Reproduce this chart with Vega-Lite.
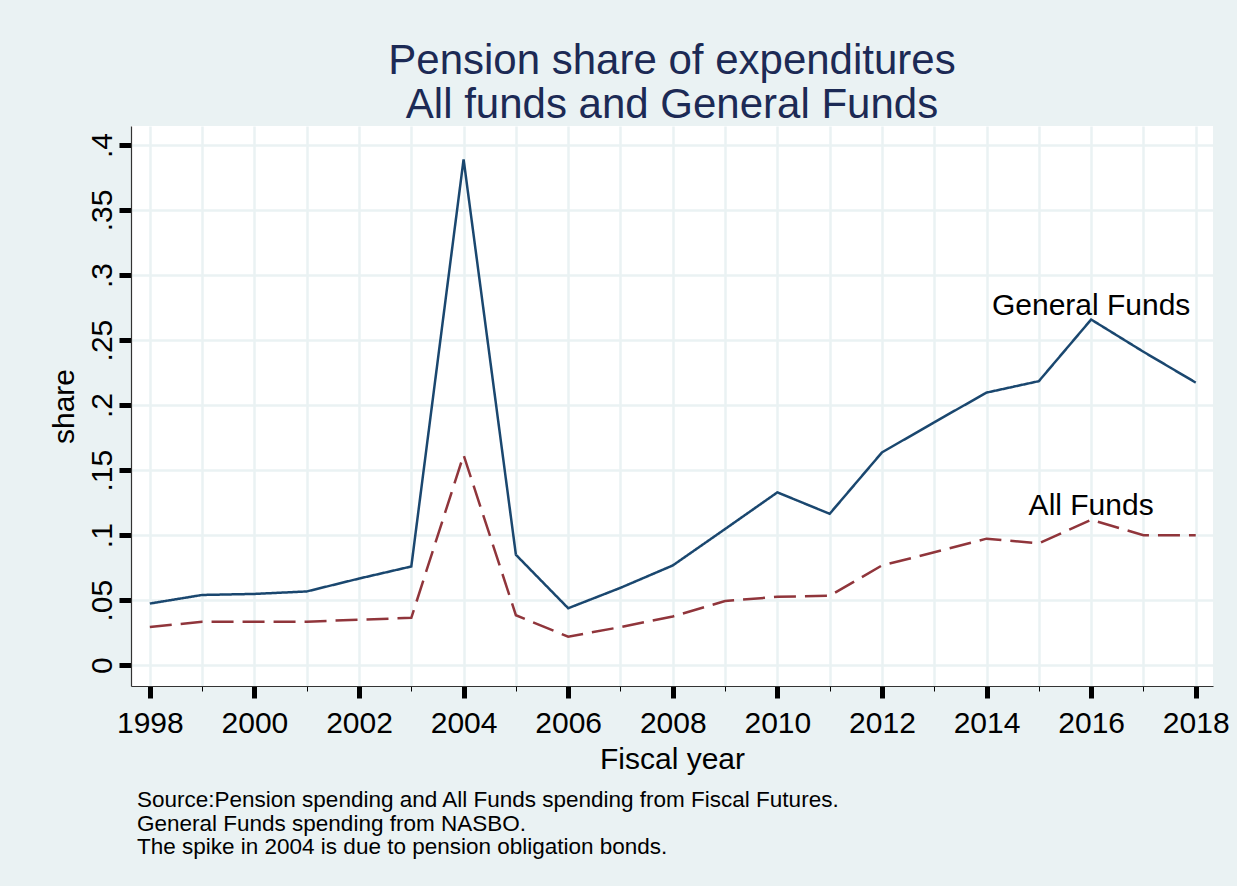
{
  "$schema": "https://vega.github.io/schema/vega-lite/v6.json",
  "background": "#eaf2f3",
  "padding": {"left": 49, "top": 40, "right": 11, "bottom": 40},
  "title": {
    "text": ["Source:Pension spending and All Funds spending from Fiscal Futures.", "General Funds spending from NASBO.", "The spike in 2004 is due to pension obligation bonds."],
    "orient": "bottom",
    "anchor": "start",
    "dx": 88,
    "fontSize": 22.5,
    "fontWeight": "normal",
    "color": "#000000",
    "lineHeight": 23.5,
    "offset": 15
  },
  "vconcat": [
    {
      "title": {
        "text": ["Pension share of expenditures", "All funds and General Funds"],
        "anchor": "middle",
        "fontSize": 42,
        "fontWeight": "normal",
        "color": "#1c2a55",
        "lineHeight": 44,
        "offset": -1
      },
      "width": 1082,
      "height": 560,
      "data": {
        "values": [
          {"year": 1998, "series": "General Funds", "share": 0.0474},
          {"year": 1999, "series": "General Funds", "share": 0.054},
          {"year": 2000, "series": "General Funds", "share": 0.0548},
          {"year": 2001, "series": "General Funds", "share": 0.0567},
          {"year": 2002, "series": "General Funds", "share": 0.0666},
          {"year": 2003, "series": "General Funds", "share": 0.0759},
          {"year": 2004, "series": "General Funds", "share": 0.389},
          {"year": 2005, "series": "General Funds", "share": 0.0849},
          {"year": 2006, "series": "General Funds", "share": 0.0438},
          {"year": 2007, "series": "General Funds", "share": 0.0595},
          {"year": 2008, "series": "General Funds", "share": 0.0767},
          {"year": 2009, "series": "General Funds", "share": 0.1047},
          {"year": 2010, "series": "General Funds", "share": 0.1329},
          {"year": 2011, "series": "General Funds", "share": 0.1164},
          {"year": 2012, "series": "General Funds", "share": 0.1636},
          {"year": 2013, "series": "General Funds", "share": 0.1868},
          {"year": 2014, "series": "General Funds", "share": 0.2096},
          {"year": 2015, "series": "General Funds", "share": 0.2184},
          {"year": 2016, "series": "General Funds", "share": 0.2658},
          {"year": 2017, "series": "General Funds", "share": 0.241},
          {"year": 2018, "series": "General Funds", "share": 0.2173},
          {"year": 1998, "series": "All Funds", "share": 0.0293},
          {"year": 1999, "series": "All Funds", "share": 0.0334},
          {"year": 2000, "series": "All Funds", "share": 0.0334},
          {"year": 2001, "series": "All Funds", "share": 0.0334},
          {"year": 2002, "series": "All Funds", "share": 0.035},
          {"year": 2003, "series": "All Funds", "share": 0.0364},
          {"year": 2004, "series": "All Funds", "share": 0.1616},
          {"year": 2005, "series": "All Funds", "share": 0.0384},
          {"year": 2006, "series": "All Funds", "share": 0.0219},
          {"year": 2007, "series": "All Funds", "share": 0.0293},
          {"year": 2008, "series": "All Funds", "share": 0.0375},
          {"year": 2009, "series": "All Funds", "share": 0.0493},
          {"year": 2010, "series": "All Funds", "share": 0.0526},
          {"year": 2011, "series": "All Funds", "share": 0.0534},
          {"year": 2012, "series": "All Funds", "share": 0.0767},
          {"year": 2013, "series": "All Funds", "share": 0.0868},
          {"year": 2014, "series": "All Funds", "share": 0.0973},
          {"year": 2015, "series": "All Funds", "share": 0.0937},
          {"year": 2016, "series": "All Funds", "share": 0.1118},
          {"year": 2017, "series": "All Funds", "share": 0.1},
          {"year": 2018, "series": "All Funds", "share": 0.1}
        ]
      },
      "encoding": {
        "x": {
          "field": "year",
          "type": "quantitative",
          "title": "Fiscal year",
          "scale": {"domain": [1997.64, 2018.33], "nice": false, "zero": false},
          "axis": {
            "values": [1998, 1999, 2000, 2001, 2002, 2003, 2004, 2005, 2006, 2007, 2008, 2009, 2010, 2011, 2012, 2013, 2014, 2015, 2016, 2017, 2018],
            "format": "d",
            "labelExpr": "datum.value % 2 == 0 ? datum.label : ''",
            "labelOverlap": false,
            "labelFlush": false,
            "tickSize": {"condition": {"test": "datum.value % 2 == 0", "value": 12}, "value": 5},
            "tickWidth": {"condition": {"test": "datum.value % 2 == 0", "value": 5}, "value": 1},
            "labelPadding": 10,
            "titlePadding": 6
          }
        },
        "y": {
          "field": "share",
          "type": "quantitative",
          "title": "share",
          "scale": {"domain": [-0.016, 0.4146], "nice": false, "zero": false},
          "axis": {
            "values": [0, 0.05, 0.1, 0.15, 0.2, 0.25, 0.3, 0.35, 0.4],
            "labelExpr": "replace(format(datum.value, '.2~f'), '0.', '.')",
            "labelAngle": -90,
            "labelAlign": "center",
            "labelBaseline": "alphabetic",
            "labelPadding": 8,
            "tickSize": 12,
            "tickWidth": 5,
            "titlePadding": 8
          }
        }
      },
      "layer": [
        {
          "mark": {"type": "line", "strokeWidth": 2.5},
          "encoding": {
            "color": {"field": "series", "type": "nominal", "scale": {"domain": ["General Funds", "All Funds"], "range": ["#1a476f", "#90353b"]}, "legend": null},
            "strokeDash": {"field": "series", "type": "nominal", "scale": {"domain": ["General Funds", "All Funds"], "range": [[1, 0], [22, 9]]}, "legend": null}
          }
        },
        {
          "transform": [{"filter": "datum.year == 2016"}],
          "mark": {"type": "text", "fontSize": 30, "baseline": "alphabetic", "align": "center", "dy": -5, "color": "#000000"},
          "encoding": {"text": {"field": "series", "type": "nominal"}}
        }
      ]
    }
  ],
  "config": {
    "font": "Liberation Sans",
    "view": {"fill": "#ffffff", "stroke": null},
    "axis": {
      "grid": true,
      "gridColor": "#eaf2f3",
      "gridWidth": 2.5,
      "domainColor": "#333333",
      "domainWidth": 1.2,
      "tickColor": "#000000",
      "labelColor": "#000000",
      "labelFontSize": 30,
      "titleFontSize": 30,
      "titleFontWeight": "normal",
      "titleColor": "#000000"
    }
  }
}
